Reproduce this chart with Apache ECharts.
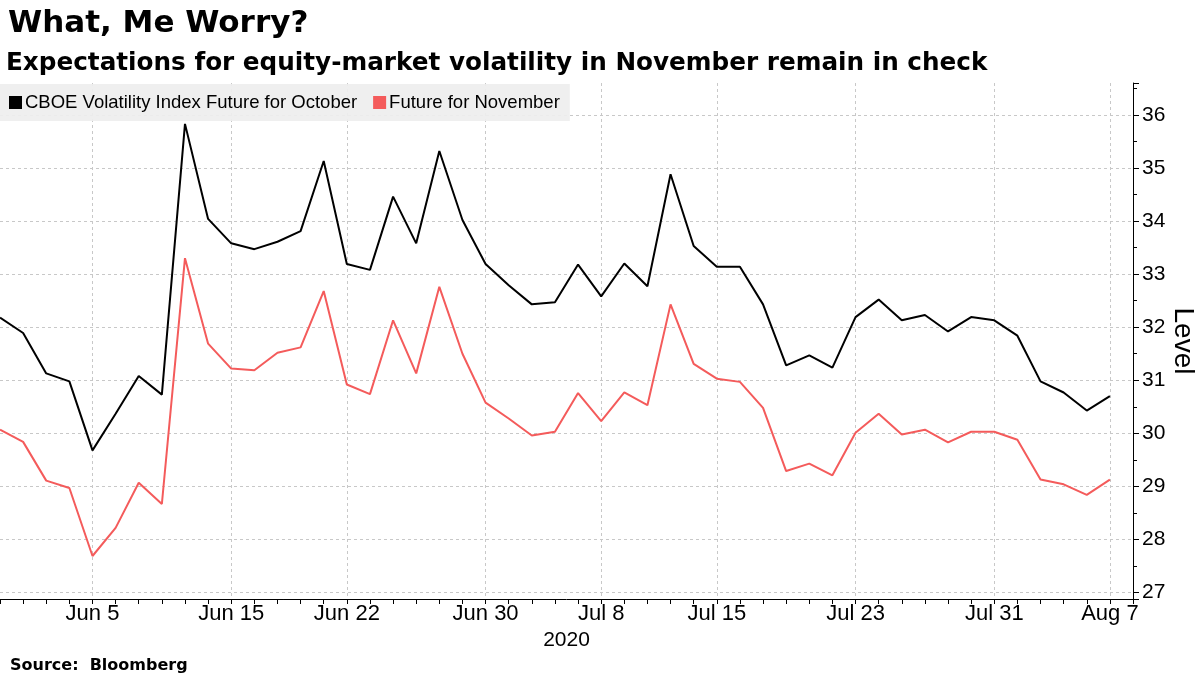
<!DOCTYPE html>
<html><head><meta charset="utf-8">
<script src="https://cdn.jsdelivr.net/npm/echarts@6/dist/echarts.min.js"></script>
<style>html,body{margin:0;padding:0;background:#fff}#c{width:1200px;height:675px}</style>
</head><body><div id="c"></div>
<script>
const categories = [
  'Jun 1','Jun 2','Jun 3','Jun 4','Jun 5','Jun 8','Jun 9','Jun 10','Jun 11','Jun 12',
  'Jun 15','Jun 16','Jun 17','Jun 18','Jun 19','Jun 22','Jun 23','Jun 24','Jun 25','Jun 26',
  'Jun 29','Jun 30','Jul 1','Jul 2','Jul 6','Jul 7','Jul 8','Jul 9','Jul 10','Jul 13',
  'Jul 14','Jul 15','Jul 16','Jul 17','Jul 20','Jul 21','Jul 22','Jul 23','Jul 24','Jul 27',
  'Jul 28','Jul 29','Jul 30','Jul 31','Aug 3','Aug 4','Aug 5','Aug 6','Aug 7','Aug 10'
];
const tickLabels = ['Jun 5','Jun 15','Jun 22','Jun 30','Jul 8','Jul 15','Jul 23','Jul 31','Aug 7'];
const octoberFuture = [
  32.18, 31.89, 31.13, 30.98, 29.68, 30.37, 31.08, 30.73, 35.83, 34.04,
  33.58, 33.47, 33.61, 33.81, 35.13, 33.19, 33.08, 34.46, 33.58, 35.32,
  34.02, 33.19, 32.79, 32.43, 32.47, 33.18, 32.58, 33.20, 32.77, 34.88,
  33.53, 33.14, 33.14, 32.43, 31.28, 31.47, 31.24, 32.19, 32.52, 32.13,
  32.23, 31.92, 32.19, 32.13, 31.84, 30.98, 30.77, 30.43, 30.70
];
const novemberFuture = [
  30.07, 29.84, 29.11, 28.97, 27.69, 28.22, 29.07, 28.67, 33.30, 31.69,
  31.22, 31.19, 31.52, 31.62, 32.68, 30.92, 30.74, 32.13, 31.13, 32.76,
  31.50, 30.58, 30.28, 29.96, 30.03, 30.76, 30.23, 30.77, 30.53, 32.43,
  31.31, 31.03, 30.97, 30.48, 29.29, 29.43, 29.21, 30.01, 30.37, 29.98,
  30.07, 29.83, 30.03, 30.03, 29.88, 29.13, 29.04, 28.84, 29.13
];
const seriesNames = ['CBOE Volatility Index Future for October', 'Future for November'];
const seriesColors = ['#000000', '#f45b5b'];

const FONT = '"Liberation Sans", Arial, sans-serif';
const TFONT = '"DejaVu Sans", sans-serif';
const isTick = (idx, val) => tickLabels.indexOf(categories[idx]) >= 0;

const chart = echarts.init(document.getElementById('c'), null, {renderer: 'canvas'});
chart.setOption({
  backgroundColor: '#ffffff',
  animation: false,
  textStyle: {fontFamily: FONT},
  title: [
    {text: 'What, Me Worry?', left: 3, top: 3,
     textStyle: {fontFamily: TFONT, fontSize: 31, fontWeight: 'bold', color: '#000'}},
    {text: 'Expectations for equity-market volatility in November remain in check', left: 1, top: 46,
     textStyle: {fontFamily: TFONT, fontSize: 24.7, fontWeight: 'bold', color: '#000'}},
    {text: 'Source:  Bloomberg', left: 5, top: 653,
     textStyle: {fontFamily: TFONT, fontSize: 16, fontWeight: 'bold', color: '#000'}}
  ],
  legend: {
    left: 0, top: 84,
    backgroundColor: 'rgba(238,238,238,0.92)',
    padding: [9, 10, 9, 9],
    itemWidth: 13, itemHeight: 13, itemGap: 16,
    icon: 'rect',
    textStyle: {fontFamily: FONT, fontSize: 18.5, color: '#000', padding: [0, 0, 0, -2]},
    data: seriesNames
  },
  grid: {left: 0, right: 67, top: 83, bottom: 76, containLabel: false, outerBoundsMode: 'none'},
  xAxis: {
    type: 'category',
    data: categories,
    boundaryGap: false,
    name: '2020',
    nameLocation: 'middle',
    nameGap: 29,
    nameTextStyle: {fontFamily: FONT, fontSize: 21, color: '#000'},
    axisLine: {show: true, lineStyle: {color: '#000', width: 1}},
    axisTick: {show: true, interval: 0, length: 5, inside: false, lineStyle: {color: '#000'}},
    axisLabel: {interval: isTick, fontFamily: FONT, fontSize: 22, color: '#000', margin: 4},
    splitLine: {show: true, interval: isTick, lineStyle: {color: '#c8c8c8', type: [3, 3], width: 1}}
  },
  yAxis: {
    type: 'value',
    position: 'right',
    min: 26.88,
    max: 36.6,
    minInterval: 1,
    maxInterval: 1,
    name: 'Level',
    nameLocation: 'middle',
    nameRotate: -90,
    nameGap: 36,
    nameMoveOverlap: false,
    nameTextStyle: {fontFamily: FONT, fontSize: 28, color: '#000'},
    axisLine: {show: true, lineStyle: {color: '#000', width: 1}},
    axisTick: {show: true, length: 6, inside: false, lineStyle: {color: '#000'}},
    minorTick: {show: true, splitNumber: 2, length: 4, lineStyle: {color: '#000'}},
    axisLabel: {fontFamily: FONT, fontSize: 21, color: '#000', margin: 9, showMinLabel: false, showMaxLabel: false},
    splitLine: {show: true, showMinLine: false, showMaxLine: false, lineStyle: {color: '#c8c8c8', type: [3, 3], width: 1}}
  },
  series: [
    {name: seriesNames[0], type: 'line', data: octoberFuture, symbol: 'none',
     itemStyle: {color: seriesColors[0]}, lineStyle: {color: seriesColors[0], width: 2}},
    {name: seriesNames[1], type: 'line', data: novemberFuture, symbol: 'none',
     itemStyle: {color: seriesColors[1]}, lineStyle: {color: seriesColors[1], width: 2}}
  ]
});
</script>
</body></html>
